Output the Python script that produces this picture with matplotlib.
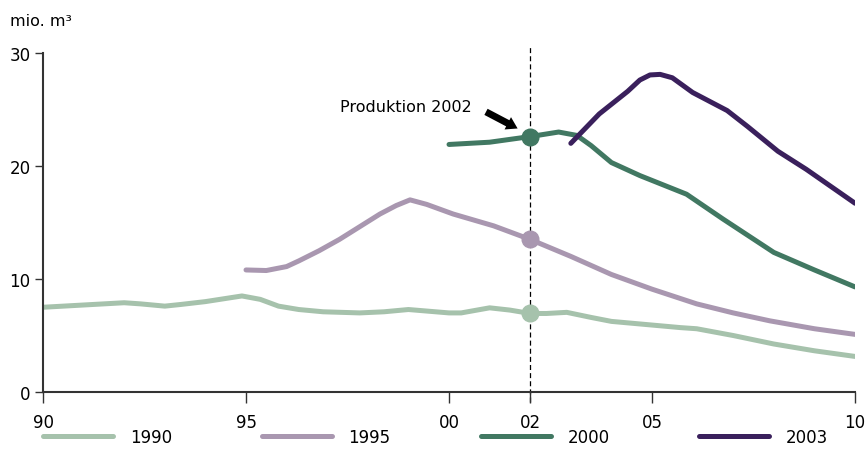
import matplotlib.pyplot as plt

plt.rcParams['font.family'] = ['DejaVu Sans']

# values (mio. m3)
years_1990 = [1990, 1991, 1992, 1992.4, 1993, 1993.4, 1994, 1994.9, 1995.35, 1995.8,
              1996.3, 1996.9, 1997.8, 1998.4, 1999, 1999.5, 2000, 2000.3, 2001, 2001.5,
              2002, 2002.4, 2002.9, 2003.5, 2004, 2005.7, 2006.1, 2007, 2008, 2009, 2010]
vals_1990 = [7.5, 7.7, 7.9, 7.8, 7.6, 7.75, 8.0, 8.5, 8.2, 7.6,
             7.3, 7.1, 7.0, 7.1, 7.3, 7.15, 7.0, 7.0, 7.45, 7.25,
             6.95, 6.95, 7.05, 6.6, 6.25, 5.7, 5.6, 5.0, 4.25, 3.65, 3.15]

years_1995 = [1995, 1995.5, 1996, 1996.3, 1996.8, 1997.3, 1998.3, 1998.7, 1999.04, 1999.45,
              2000.1, 2001.1, 2002, 2003, 2004, 2005, 2006.1, 2007, 2007.9, 2009, 2010]
vals_1995 = [10.8, 10.75, 11.1, 11.6, 12.5, 13.5, 15.75, 16.5, 17.0, 16.6,
             15.75, 14.7, 13.5, 12.0, 10.4, 9.1, 7.8, 7.0, 6.3, 5.6, 5.1]

years_2000 = [2000, 2001, 2002, 2002.7, 2003.15, 2003.5, 2004, 2004.7, 2005.85,
              2006.75, 2008, 2009, 2010]
vals_2000 = [21.9, 22.1, 22.6, 23.0, 22.7, 21.8, 20.3, 19.15, 17.5,
             15.3, 12.35, 10.8, 9.3]

years_2003 = [2003, 2003.7, 2004.4, 2004.7, 2004.95, 2005.2, 2005.5, 2006, 2006.85,
              2007.35, 2008.1, 2008.8, 2010]
vals_2003 = [22.0, 24.6, 26.6, 27.6, 28.05, 28.1, 27.8, 26.5, 24.9,
             23.5, 21.3, 19.7, 16.7]

series = [
    ('1990', years_1990, vals_1990, '#a6c2ac'),
    ('1995', years_1995, vals_1995, '#a997b0'),
    ('2000', years_2000, vals_2000, '#417862'),
    ('2003', years_2003, vals_2003, '#3a205c'),
]

mark_year = 2002
xticks = [1990, 1995, 2000, 2002, 2005, 2010]
xtick_labels = ['90', '95', '00', '02', '05', '10']
yticks = [0, 10, 20, 30]

fig = plt.figure(figsize=(8.67, 4.77), dpi=100)
ax = fig.add_axes([0.0496, 0.176, 0.9366, 0.711])

for name, xs, ys, col in series:
    ax.plot(xs, ys, color=col, lw=3.6, solid_capstyle='round',
            solid_joinstyle='round', label=name)
    if mark_year in xs:
        ax.plot(mark_year, ys[xs.index(mark_year)], 'o', color=col, ms=12, zorder=5)

ax.axvline(mark_year, ymin=-0.03, ymax=1.02, color='black', lw=0.9,
           ls=(0, (4, 2.5)), clip_on=False, zorder=1)

ax.annotate('', xy=(2001.75, 23.2), xytext=(2000.85, 24.9),
            arrowprops=dict(arrowstyle='simple,head_length=0.8,head_width=1.0,tail_width=0.5',
                            color='black', lw=0))
ax.text(2000.55, 25.3, 'Produktion 2002', ha='right', va='center', fontsize=11.5)

ax.set_xlim(1990, 2010)
ax.set_ylim(0, 30)
ax.set_xticks(xticks)
ax.set_xticklabels(xtick_labels)
ax.set_yticks(yticks)
for s in ['top', 'right']:
    ax.spines[s].set_visible(False)
for s in ['left', 'bottom']:
    ax.spines[s].set_color('#333333')
    ax.spines[s].set_linewidth(1.5)
ax.tick_params(axis='x', length=8, width=1, color='#333333', labelsize=12, pad=7)
ax.tick_params(axis='y', length=6, width=1, color='#333333', labelsize=12, pad=3)

fig.text(0.012, 0.955, 'mio. m\u00b3', fontsize=11.5, va='center')

fig.legend(loc='center left', bbox_to_anchor=(0.0496, 0.082), ncol=4, frameon=False,
           fontsize=12, handlelength=4.2, handletextpad=1.0, columnspacing=5.4,
           borderpad=0, borderaxespad=0)

fig.savefig('out.png', dpi=100)
